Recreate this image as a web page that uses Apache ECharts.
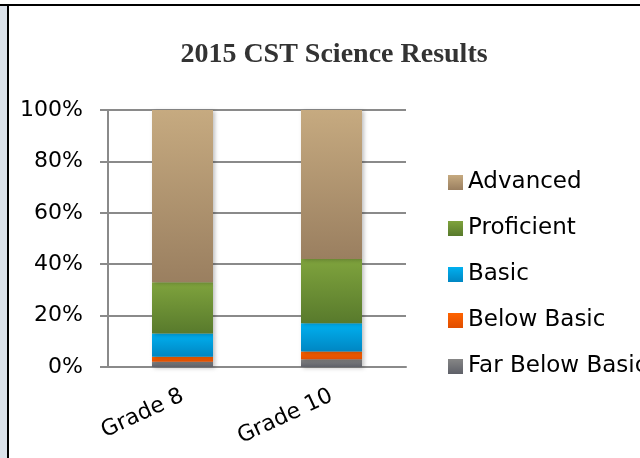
<!DOCTYPE html>
<html>
<head>
<meta charset="utf-8">
<script src="https://cdn.jsdelivr.net/npm/echarts@6/dist/echarts.min.js"></script>
<style>
  html, body { margin: 0; padding: 0; background: #fff; }
  #main { width: 640px; height: 458px; }
</style>
</head>
<body>
<div id="main"></div>
<script>
// data (percent of students)
var grades = ["Grade 8", "Grade 10"];
var farBelowBasic = [2, 3];
var belowBasic = [2, 3];
var basic = [9, 11];
var proficient = [20, 25];
var advanced = [67, 58];
var yTicks = [0, 20, 40, 60, 80, 100];

var myChart = echarts.init(document.getElementById("main"));

// vertical gradient, lighter on top like the excel bars
function grad(top, bottom) {
  return new echarts.graphic.LinearGradient(0, 0, 0, 1, [
    { offset: 0, color: top },
    { offset: 1, color: bottom }
  ]);
}

function bar(name, data, top, bottom) {
  return {
    name: name,
    type: "bar",
    stack: "total",
    barWidth: 61,
    data: data,
    itemStyle: {
      color: grad(top, bottom),
      shadowColor: "rgba(0,0,0,0.25)",
      shadowBlur: 4,
      shadowOffsetX: 2,
      shadowOffsetY: 1
    }
  };
}

var font = "DejaVu Sans";

var option = {
  backgroundColor: "#fff",
  animation: false,
  title: {
    text: "2015 CST Science Results",
    left: 329,
    top: 36,
    textAlign: "center",
    textStyle: {
      fontFamily: "Liberation Serif",
      fontWeight: "bold",
      fontSize: 28,
      color: "#333"
    }
  },
  legend: {
    orient: "vertical",
    left: 443,
    top: 166,
    padding: 5,
    itemWidth: 15,
    itemHeight: 15,
    itemGap: 23,
    icon: "rect",
    data: ["Advanced", "Proficient", "Basic", "Below Basic", "Far Below Basic"],
    textStyle: { fontFamily: font, fontSize: 23, color: "#000" }
  },
  grid: { left: 108, right: 234, top: 110, bottom: 91 },
  xAxis: {
    type: "category",
    data: grades,
    axisLine: { lineStyle: { color: "#8a8a8a", width: 2 } },
    axisTick: { length: 8, lineStyle: { color: "#8a8a8a", width: 2 } },
    axisLabel: {
      rotate: 25,
      margin: 28,
      fontFamily: font,
      fontSize: 22,
      color: "#000"
    }
  },
  yAxis: {
    type: "value",
    min: yTicks[0],
    max: yTicks[yTicks.length - 1],
    interval: 20,
    axisLine: { show: true, lineStyle: { color: "#8a8a8a", width: 2 } },
    axisTick: { show: true, length: 8, lineStyle: { color: "#8a8a8a", width: 2 } },
    splitLine: { lineStyle: { color: "#8a8a8a", width: 2 } },
    axisLabel: {
      formatter: "{value}%",
      margin: 25,
      fontFamily: font,
      fontSize: 22,
      color: "#000"
    }
  },
  series: [
    bar("Far Below Basic", farBelowBasic, "#868686", "#5e6068"),
    bar("Below Basic", belowBasic, "#ff6300", "#e04e00"),
    bar("Basic", basic, "#00b0f0", "#0086c2"),
    bar("Proficient", proficient, "#7fa33d", "#587a2c"),
    bar("Advanced", advanced, "#c6aa80", "#9a7f60")
  ],
  graphic: [
    // page frame around the chart
    { type: "rect", shape: { x: 0, y: 6, width: 7, height: 452 }, style: { fill: "#dbe2ea" } },
    { type: "rect", shape: { x: 7, y: 6, width: 2, height: 452 }, style: { fill: "#000" } },
    { type: "rect", shape: { x: 0, y: 4, width: 640, height: 2 }, style: { fill: "#000" } }
  ]
};

myChart.setOption(option);
</script>
</body>
</html>
